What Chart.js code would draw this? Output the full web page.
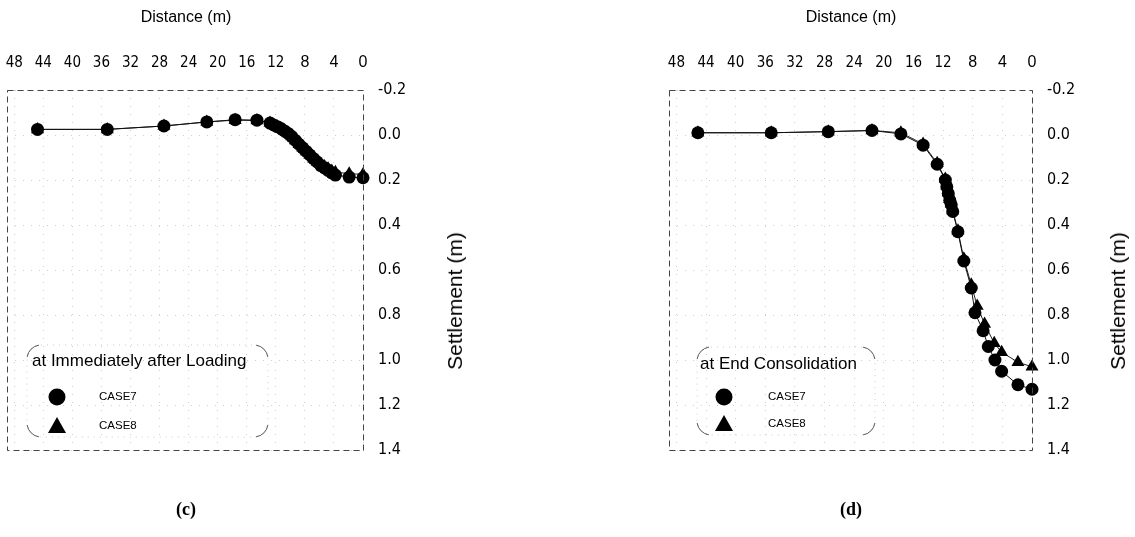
<!DOCTYPE html>
<html>
<head>
<meta charset="utf-8">
<script src="https://cdn.jsdelivr.net/npm/chart.js@4/dist/chart.umd.min.js"></script>
<style>
  body { margin: 0; background: #fff; }
  #wrap { position: relative; width: 1135px; height: 537px; overflow: hidden; font-family: "Liberation Sans", Arial, sans-serif; color: #000; }
  canvas { position: absolute; top: 0; }
  .xtitle { position: absolute; top: 8px; font-size: 16px; transform: translateX(-50%); white-space: nowrap; }
  .ytitle { position: absolute; top: 301px; font-size: 21px; white-space: nowrap; transform: translate(-50%, -50%) rotate(-90deg); }
  .cap { position: absolute; top: 499px; font-family: "Liberation Serif", "DejaVu Serif", serif; font-weight: bold; font-size: 18px; transform: translateX(-50%); }
</style>
</head>
<body>
<div id="wrap">
  <canvas id="chartC" width="587" height="537" style="left:-20px"></canvas>
  <canvas id="chartD" width="568" height="537" style="left:567px"></canvas>
  <div class="xtitle" style="left:186px">Distance (m)</div>
  <div class="xtitle" style="left:851px">Distance (m)</div>
  <div class="ytitle" style="left:455px">Settlement (m)</div>
  <div class="ytitle" style="left:1118px">Settlement (m)</div>
  <div class="cap" style="left:186px">(c)</div>
  <div class="cap" style="left:851px">(d)</div>
</div>
<script>
// axis ticks
const xTicks = [48, 44, 40, 36, 32, 28, 24, 20, 16, 12, 8, 4, 0];
const yTicks = [-0.2, 0.0, 0.2, 0.4, 0.6, 0.8, 1.0, 1.2, 1.4];
const seriesNames = ['CASE7', 'CASE8'];

// (c) at Immediately after Loading
const loadDist7 = [44.8, 35.2, 27.4, 21.5, 17.6, 14.6, 12.8, 12.3, 11.8, 11.3, 10.8, 10.3, 9.8, 9.3, 8.8, 8.3, 7.8, 7.3, 6.8, 6.3, 5.8, 5.3, 4.8, 4.3, 3.8, 1.9, 0];
const loadSettle7 = [-0.025, -0.025, -0.04, -0.058, -0.068, -0.066, -0.053, -0.045, -0.037, -0.029, -0.018, -0.007, 0.007, 0.024, 0.041, 0.057, 0.073, 0.089, 0.105, 0.12, 0.136, 0.146, 0.157, 0.168, 0.178, 0.187, 0.19];
const loadDist8 = [44.8, 35.2, 27.4, 21.5, 17.6, 14.6, 12.8, 12.3, 11.8, 11.3, 10.8, 10.3, 9.8, 9.3, 8.8, 8.3, 7.8, 7.3, 6.8, 6.3, 5.8, 5.3, 4.8, 4.3, 3.8, 1.9, 0];
const loadSettle8 = [-0.025, -0.025, -0.04, -0.058, -0.066, -0.064, -0.053, -0.045, -0.037, -0.029, -0.018, -0.007, 0.007, 0.024, 0.041, 0.057, 0.073, 0.089, 0.105, 0.12, 0.13, 0.14, 0.15, 0.16, 0.165, 0.172, 0.175];

// (d) at End Consolidation
const endDist7 = [45.1, 35.2, 27.5, 21.6, 17.7, 14.7, 12.8, 11.7, 11.5, 11.3, 11.1, 10.9, 10.7, 10.0, 9.2, 8.2, 7.7, 6.6, 5.9, 5.0, 4.1, 1.9, 0];
const endSettle7 = [-0.01, -0.01, -0.015, -0.02, -0.005, 0.045, 0.13, 0.2, 0.23, 0.26, 0.29, 0.31, 0.34, 0.43, 0.56, 0.68, 0.79, 0.87, 0.94, 1.0, 1.05, 1.11, 1.13];
const endDist8 = [45.1, 35.2, 27.5, 21.6, 17.7, 14.7, 12.8, 11.7, 11.5, 11.3, 11.1, 10.9, 10.7, 10.0, 9.2, 8.2, 7.4, 6.4, 5.1, 4.1, 1.9, 0];
const endSettle8 = [-0.01, -0.01, -0.015, -0.02, -0.01, 0.04, 0.125, 0.195, 0.225, 0.255, 0.285, 0.305, 0.335, 0.425, 0.55, 0.665, 0.76, 0.84, 0.925, 0.965, 1.01, 1.03];

const narrow = '"Liberation Sans Narrow", "DejaVu Sans Condensed", "Arial Narrow", sans-serif';
const sans = '"Liberation Sans", Arial, sans-serif';

const toPts = (xs, ys) => xs.map((x, i) => ({ x: x, y: ys[i] }));

// dashed frame round the plot area
const framePlugin = {
  id: 'frame',
  afterDraw(chart) {
    const { ctx, chartArea: a } = chart;
    ctx.save();
    ctx.strokeStyle = '#444';
    ctx.lineWidth = 1;
    ctx.setLineDash([6, 4]);
    ctx.strokeRect(a.left + 0.5, a.top + 0.5, a.right - a.left, a.bottom - a.top);
    ctx.restore();
  }
};

// legend box drawn inside the plot area
const boxLegend = {
  id: 'boxLegend',
  afterDraw(chart, args, o) {
    const { ctx, chartArea: a } = chart;
    const x0 = a.left + o.dx, y0 = a.top + o.dy, w = o.w, h = o.h, r = 14;
    ctx.save();
    ctx.lineWidth = 1;
    ctx.strokeStyle = '#ccc';
    ctx.setLineDash([1, 5]);
    ctx.beginPath();
    ctx.roundRect(x0, y0, w, h, r);
    ctx.stroke();
    ctx.setLineDash([]);
    ctx.strokeStyle = '#555';
    const corners = [
      [x0 + r, y0 + r, Math.PI, 1.5 * Math.PI],
      [x0 + w - r, y0 + r, 1.5 * Math.PI, 2 * Math.PI],
      [x0 + w - r, y0 + h - r, 0, 0.5 * Math.PI],
      [x0 + r, y0 + h - r, 0.5 * Math.PI, Math.PI]
    ];
    corners.forEach(c => {
      ctx.beginPath();
      ctx.arc(c[0], c[1], r, c[2] + 0.15, c[3] - 0.15);
      ctx.stroke();
    });
    ctx.fillStyle = '#000';
    ctx.textBaseline = 'middle';
    ctx.font = '17px ' + sans;
    ctx.fillText(o.title, x0 + o.tx, y0 + o.ty);
    ctx.font = '11.5px ' + sans;
    chart.data.datasets.forEach((ds, i) => {
      const mx = x0 + o.mx, my = y0 + o.rows[i];
      ctx.beginPath();
      if (ds.pointStyle === 'triangle') {
        ctx.moveTo(mx, my - 9);
        ctx.lineTo(mx + 9, my + 7);
        ctx.lineTo(mx - 9, my + 7);
        ctx.closePath();
      } else {
        ctx.arc(mx, my, 8.5, 0, 2 * Math.PI);
      }
      ctx.fill();
      ctx.fillText(ds.label, x0 + o.lx, my);
    });
    ctx.restore();
  }
};

function makeChart(id, d7, s7, d8, s8, padLeft, padRight, legend) {
  return new Chart(document.getElementById(id), {
    type: 'line',
    data: {
      datasets: [
        {
          label: seriesNames[0],
          data: toPts(d7, s7),
          pointStyle: 'circle',
          pointRadius: 6.5,
          backgroundColor: '#000',
          borderColor: '#111',
          borderWidth: 1,
          pointBorderWidth: 0,
          clip: false
        },
        {
          label: seriesNames[1],
          data: toPts(d8, s8),
          pointStyle: 'triangle',
          pointRadius: 7.5,
          backgroundColor: '#000',
          borderColor: '#222',
          borderWidth: 1,
          pointBorderWidth: 0,
          clip: false
        }
      ]
    },
    options: {
      responsive: false,
      animation: false,
      events: [],
      layout: { padding: { left: padLeft, right: padRight, top: 40, bottom: 87 } },
      scales: {
        x: {
          type: 'linear',
          position: 'top',
          reverse: true,
          min: 0,
          max: 49,
          afterFit: s => { s.height = 50; },
          afterBuildTicks: s => { s.ticks = xTicks.map(v => ({ value: v })); },
          ticks: {
            padding: 18,
            color: '#000',
            maxRotation: 0,
            autoSkip: false,
            callback: v => String(v),
            font: c => (c.tick && c.tick.value < 12) ? { family: sans, size: 16 } : { family: narrow, size: 15 }
          },
          grid: { color: '#cfcfcf', drawTicks: false },
          border: { display: false, dash: [1, 7] }
        },
        y: {
          type: 'linear',
          position: 'right',
          reverse: true,
          min: -0.2,
          max: 1.4,
          afterFit: s => { s.width = 50; },
          afterBuildTicks: s => { s.ticks = yTicks.map(v => ({ value: v })); },
          ticks: {
            padding: 15,
            color: '#000',
            autoSkip: false,
            callback: v => Number(v).toFixed(1),
            font: { family: narrow, size: 16 }
          },
          grid: { color: '#cfcfcf', drawTicks: false },
          border: { display: false, dash: [1, 7] }
        }
      },
      plugins: {
        legend: { display: false },
        tooltip: { enabled: false },
        boxLegend: legend
      }
    },
    plugins: [framePlugin, boxLegend]
  });
}

makeChart('chartC', loadDist7, loadSettle7, loadDist8, loadSettle8, 27, 154,
  { dx: 20, dy: 255, w: 241, h: 92, title: 'at Immediately after Loading', tx: 5, ty: 16, mx: 30, lx: 72, rows: [52, 81] });
makeChart('chartD', endDist7, endSettle7, endDist8, endSettle8, 102, 53,
  { dx: 28, dy: 257, w: 178, h: 88, title: 'at End Consolidation', tx: 3, ty: 17, mx: 27, lx: 71, rows: [50, 77] });
</script>
</body>
</html>
